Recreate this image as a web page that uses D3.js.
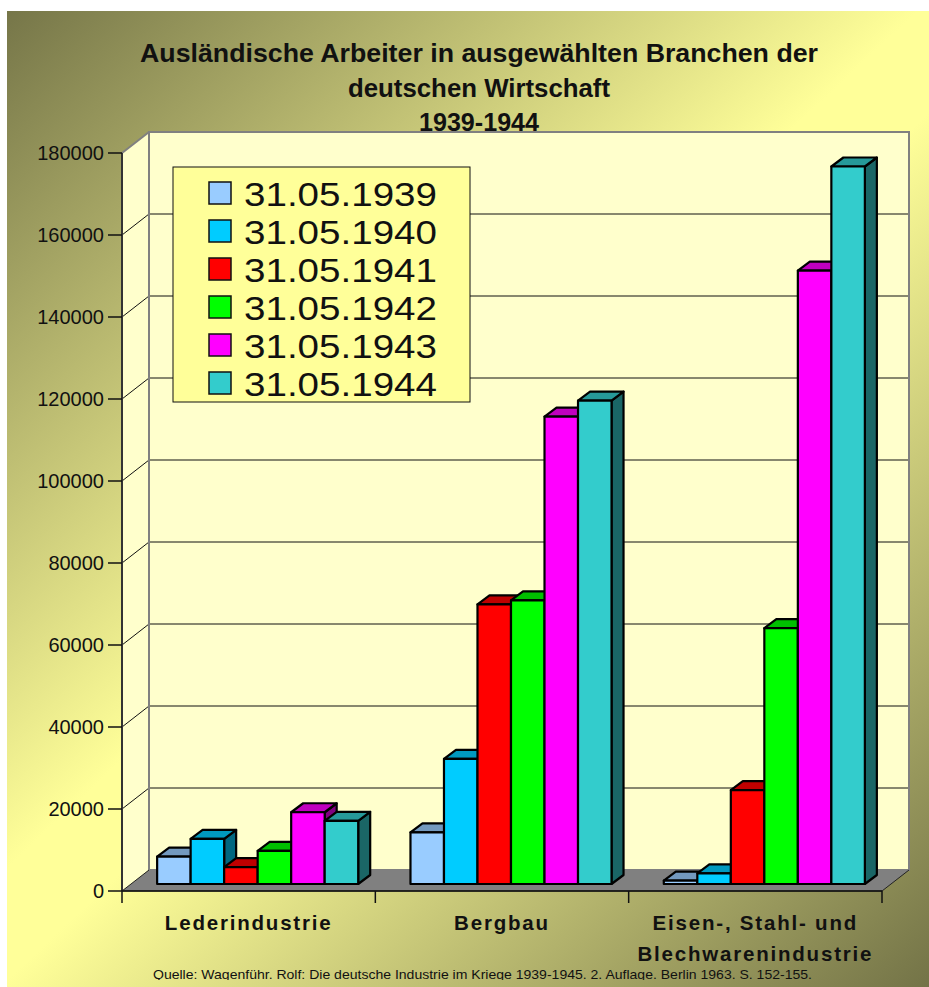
<!DOCTYPE html>
<html>
<head>
<meta charset="utf-8">
<script src="https://cdn.jsdelivr.net/npm/d3@7"></script>
<style>
body { margin: 0; background: #fff; }
text { font-family: "Liberation Sans", Arial, sans-serif; }
</style>
</head>
<body>
<div id="chart"></div>
<script>
const width = 929, height = 987;

var branches = ["Lederindustrie", "Bergbau", "Eisen-, Stahl- und|Blechwarenindustrie"];
var dates = ["31.05.1939", "31.05.1940", "31.05.1941", "31.05.1942", "31.05.1943", "31.05.1944"];
var colors = ["#99ccff", "#00ccff", "#ff0000", "#00ff00", "#ff00ff", "#33cccc"];
var leder = [6700, 11000, 4100, 8100, 17500, 15400];
var bergbau = [12600, 30500, 68200, 69200, 114000, 117900];
var eisen = [800, 2600, 22900, 62400, 149600, 175000];
var yTicks = [0, 20000, 40000, 60000, 80000, 100000, 120000, 140000, 160000, 180000];
var titleLines = ["Ausländische Arbeiter in ausgewählten Branchen der", "deutschen Wirtschaft", "1939-1944"];
var source = "Quelle: Wagenführ. Rolf: Die deutsche Industrie im Kriege 1939-1945. 2. Auflage. Berlin 1963. S. 152-155.";

var values = [leder, bergbau, eisen];

// 3d offsets: wall depth and bar placement inside it
var depth = {x: 27, y: -21};
var barFront = {x: 9, y: -7};
var barDepth = {x: 12, y: -9};

var svg = d3.select("#chart").append("svg")
    .attr("width", width)
    .attr("height", height);

var defs = svg.append("defs");
var grad = defs.append("linearGradient")
    .attr("id", "bg")
    .attr("gradientUnits", "userSpaceOnUse")
    .attr("x1", 0).attr("y1", 0)
    .attr("x2", width).attr("y2", height);
grad.append("stop").attr("offset", 0).attr("stop-color", "#737347");
grad.append("stop").attr("offset", 0.47).attr("stop-color", "#ffff99");
grad.append("stop").attr("offset", 0.53).attr("stop-color", "#ffff99");
grad.append("stop").attr("offset", 1).attr("stop-color", "#737347");

defs.append("clipPath").attr("id", "srcclip")
    .append("rect").attr("x", 0).attr("y", 0).attr("width", width).attr("height", 980);

svg.append("rect")
    .attr("x", 7).attr("y", 11)
    .attr("width", width - 7).attr("height", height - 11)
    .attr("fill", "url(#bg)");

var x0 = d3.scaleBand().domain(branches).range([122, 882]);
var x1 = d3.scaleBand().domain(dates).range([0, x0.bandwidth()])
    .paddingInner(0).paddingOuter(0.78);
var y = d3.scaleLinear().domain([0, 180000]).range([891, 153]);

var pts = (arr) => arr.map(p => p.join(",")).join(" ");

var yTop = y(180000), yBot = y(0), xL = x0.range()[0], xR = x0.range()[1];

// side wall, back wall, floor
svg.append("polygon")
    .attr("points", pts([[xL, yBot], [xL, yTop], [xL + depth.x, yTop + depth.y], [xL + depth.x, yBot + depth.y]]))
    .attr("fill", "#ffffcc");
svg.append("rect")
    .attr("x", xL + depth.x).attr("y", yTop + depth.y)
    .attr("width", xR - xL).attr("height", yBot - yTop)
    .attr("fill", "#ffffcc");

var grid = svg.append("g");
yTicks.slice(1, -1).forEach(function(t) {
    grid.append("polyline")
        .attr("points", pts([[xL, y(t)], [xL + depth.x, y(t) + depth.y], [xR + depth.x, y(t) + depth.y]]))
        .attr("fill", "none")
        .attr("stroke", "#111")
        .attr("stroke-width", 1);
});

svg.append("rect")
    .attr("x", xL + depth.x).attr("y", yTop + depth.y)
    .attr("width", xR - xL).attr("height", yBot - yTop)
    .attr("fill", "none")
    .attr("stroke", "#808080")
    .attr("stroke-width", 2);
svg.append("line")
    .attr("x1", xL).attr("y1", yTop)
    .attr("x2", xL + depth.x).attr("y2", yTop + depth.y)
    .attr("stroke", "#808080").attr("stroke-width", 2);

svg.append("polygon")
    .attr("points", pts([[xL, yBot], [xR, yBot], [xR + depth.x, yBot + depth.y], [xL + depth.x, yBot + depth.y]]))
    .attr("fill", "#808080");
svg.append("polyline")
    .attr("points", pts([[xL + depth.x, yBot + depth.y], [xL, yBot], [xR, yBot], [xR + depth.x, yBot + depth.y]]))
    .attr("fill", "none")
    .attr("stroke", "#222")
    .attr("stroke-width", 1);

// bars
var shade = (c, k) => { var r = d3.rgb(c); return d3.rgb(r.r * k, r.g * k, r.b * k).formatHex(); };

branches.forEach(function(b, i) {
    var g = svg.append("g");
    dates.forEach(function(d, j) {
        var v = values[i][j];
        var bx = x0(b) + x1(d) + barFront.x;
        var bw = x1.bandwidth();
        var by = y(v) + barFront.y;
        var base = y(0) + barFront.y;
        var bar = g.append("g")
            .attr("stroke", "#000")
            .attr("stroke-width", 2.2)
            .attr("stroke-linejoin", "round");
        bar.append("polygon")
            .attr("points", pts([[bx + bw, base], [bx + bw + barDepth.x, base + barDepth.y],
                [bx + bw + barDepth.x, by + barDepth.y], [bx + bw, by]]))
            .attr("fill", shade(colors[j], 0.5));
        bar.append("polygon")
            .attr("points", pts([[bx, by], [bx + barDepth.x, by + barDepth.y],
                [bx + bw + barDepth.x, by + barDepth.y], [bx + bw, by]]))
            .attr("fill", shade(colors[j], 0.75));
        bar.append("rect")
            .attr("x", bx).attr("y", by)
            .attr("width", bw).attr("height", base - by)
            .attr("fill", colors[j]);
    });
});

// axes
svg.append("line")
    .attr("x1", xL).attr("y1", yTop).attr("x2", xL).attr("y2", yBot)
    .attr("stroke", "#333").attr("stroke-width", 2);
svg.append("line")
    .attr("x1", xL).attr("y1", yBot).attr("x2", xR).attr("y2", yBot)
    .attr("stroke", "#111").attr("stroke-width", 1.5);

var yAxis = svg.append("g");
yAxis.selectAll("line").data(yTicks).enter().append("line")
    .attr("x1", 108).attr("x2", xL)
    .attr("y1", d => y(d)).attr("y2", d => y(d))
    .attr("stroke", "#111").attr("stroke-width", 1.5);
yAxis.selectAll("text").data(yTicks).enter().append("text")
    .attr("x", 104)
    .attr("y", d => y(d) + 7)
    .attr("text-anchor", "end")
    .attr("font-size", 20)
    .attr("fill", "#111")
    .text(d => d);

var xAxis = svg.append("g");
xAxis.selectAll("line").data(d3.range(branches.length + 1)).enter().append("line")
    .attr("x1", d => xL + d * x0.step()).attr("x2", d => xL + d * x0.step())
    .attr("y1", yBot).attr("y2", yBot + 12)
    .attr("stroke", "#111").attr("stroke-width", 1.5);
branches.forEach(function(b) {
    b.split("|").forEach(function(line, k) {
        xAxis.append("text")
            .attr("x", x0(b) + x0.bandwidth() / 2)
            .attr("y", 930 + k * 31)
            .attr("text-anchor", "middle")
            .attr("font-size", 20.5)
            .attr("font-weight", "bold")
            .attr("letter-spacing", 1.8)
            .attr("fill", "#111")
            .text(line);
    });
});

// title
var titleW = [678, 262, 120];
svg.selectAll(".title").data(titleLines).enter().append("text")
    .attr("class", "title")
    .attr("x", 479)
    .attr("y", (d, i) => 62 + i * 34.5)
    .attr("text-anchor", "middle")
    .attr("font-size", 26)
    .attr("font-weight", "bold")
    .attr("fill", "#111")
    .attr("textLength", (d, i) => titleW[i])
    .attr("lengthAdjust", "spacingAndGlyphs")
    .text(d => d);

// legend
var legend = svg.append("g");
legend.append("rect")
    .attr("x", 173).attr("y", 167)
    .attr("width", 297).attr("height", 235)
    .attr("fill", "#ffff99")
    .attr("stroke", "#111").attr("stroke-width", 1);
var rows = legend.selectAll(".row").data(dates).enter().append("g")
    .attr("transform", (d, i) => "translate(0," + (193 + i * 38) + ")");
rows.append("rect")
    .attr("x", 209).attr("y", -11)
    .attr("width", 22).attr("height", 22)
    .attr("fill", (d, i) => colors[i])
    .attr("stroke", "#111").attr("stroke-width", 1.5);
rows.append("text")
    .attr("x", 244).attr("y", 12.5)
    .attr("font-size", 34)
    .attr("fill", "#111")
    .attr("textLength", 193)
    .attr("lengthAdjust", "spacingAndGlyphs")
    .text(d => d);

// source
svg.append("text")
    .attr("x", 153).attr("y", 979)
    .attr("clip-path", "url(#srcclip)")
    .attr("font-size", 13)
    .attr("fill", "#111")
    .attr("textLength", 659)
    .attr("lengthAdjust", "spacingAndGlyphs")
    .text(source);
</script>
</body>
</html>
